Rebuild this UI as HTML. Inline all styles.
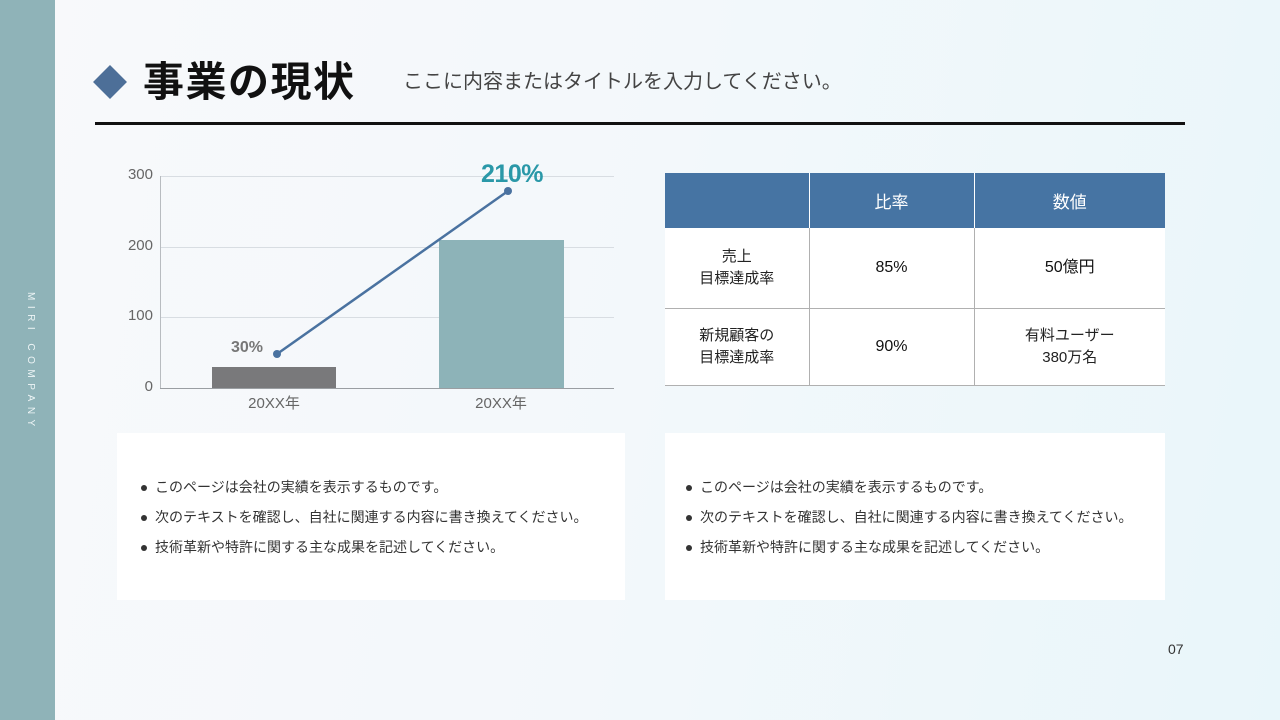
<!DOCTYPE html>
<html lang="ja">
<head>
<meta charset="utf-8">
<style>
*{margin:0;padding:0;box-sizing:border-box;}
html,body{width:1280px;height:720px;overflow:hidden;}
body{position:relative;font-family:"Liberation Sans","Noto Sans CJK JP",sans-serif;
background:linear-gradient(100deg,#f8f9fb 0%,#f3f8fb 50%,#e9f6fa 100%);}
.side{position:absolute;left:0;top:0;width:55px;height:720px;background:#8fb3b8;}
.vt{position:absolute;left:24px;top:292px;writing-mode:vertical-rl;font-size:10px;letter-spacing:5.5px;color:#eef5f6;font-family:"Liberation Sans",sans-serif;line-height:12px;}
.dia{position:absolute;left:98px;top:70px;width:24px;height:24px;background:#4d6f98;transform:rotate(45deg);}
.title{position:absolute;left:143px;top:57px;font-size:41px;font-weight:bold;color:#111;line-height:50px;letter-spacing:1.5px;}
.sub{position:absolute;left:403px;top:69px;font-size:20px;color:#444;line-height:26px;}
.hr{position:absolute;left:95px;top:122px;width:1090px;height:3px;background:#111;}
table{position:absolute;left:665px;top:173px;border-collapse:collapse;width:500px;}
th{background:#4674a3;color:#fff;font-weight:normal;font-size:17px;height:55px;border-left:1px solid #fff;}
th:first-child{border-left:none;}
td{background:#fff;text-align:center;font-size:15px;color:#222;line-height:22px;border-bottom:1px solid #b0b0b0;border-left:1px solid #b0b0b0;}
td.v{font-size:16px;color:#111;}
td:first-child{border-left:none;}
.box{position:absolute;top:433px;height:167px;background:#fff;}
.box ul{list-style:none;position:absolute;top:39px;}
.box li{font-size:14px;color:#333;line-height:30px;position:relative;padding-left:14px;white-space:nowrap;}
.box li:before{content:"";position:absolute;left:0;top:13px;width:6px;height:6px;border-radius:50%;background:#333;}
.pn{position:absolute;left:1168px;top:641px;font-size:14px;color:#333;}
</style>
</head>
<body>
<div class="side"></div>
<div class="vt">MIRI COMPANY</div>
<div class="dia"></div>
<div class="title">事業の現状</div>
<div class="sub">ここに内容またはタイトルを入力してください。</div>
<div class="hr"></div>

<svg style="position:absolute;left:0;top:0" width="660" height="430">
  <g stroke="#d8dde2" stroke-width="1">
    <line x1="160" y1="176.5" x2="614" y2="176.5"/>
    <line x1="160" y1="247.5" x2="614" y2="247.5"/>
    <line x1="160" y1="317.5" x2="614" y2="317.5"/>
  </g>
  <line x1="160.5" y1="176" x2="160.5" y2="388" stroke="#b8bcc0" stroke-width="1"/>
  <rect x="212" y="367" width="124" height="21" fill="#79797b"/>
  <rect x="439" y="240" width="125" height="148" fill="#8db3b8"/>
  <line x1="160" y1="388.5" x2="614" y2="388.5" stroke="#9a9ea2" stroke-width="1"/>
  <g font-family="Liberation Sans, sans-serif" font-size="15" fill="#666" text-anchor="end">
    <text x="153" y="179">300</text>
    <text x="153" y="250">200</text>
    <text x="153" y="320">100</text>
    <text x="153" y="391">0</text>
  </g>
  <g font-family="Liberation Sans, Noto Sans CJK JP, sans-serif" font-size="15" fill="#666" text-anchor="middle">
    <text x="274" y="408">20XX年</text>
    <text x="501" y="408">20XX年</text>
  </g>
  <line x1="277" y1="354" x2="508" y2="191" stroke="#4a72a0" stroke-width="2.5"/>
  <circle cx="277" cy="354" r="4" fill="#4a72a0"/>
  <circle cx="508" cy="191" r="4" fill="#4a72a0"/>
  <text x="247" y="352" font-family="Liberation Sans, sans-serif" font-size="16" font-weight="bold" fill="#777" text-anchor="middle">30%</text>
  <text x="512" y="182" font-family="Liberation Sans, sans-serif" font-size="25" font-weight="bold" fill="#2a98a8" text-anchor="middle" letter-spacing="-0.5">210%</text>
</svg>

<table>
  <tr><th style="width:144px"></th><th style="width:165px">比率</th><th style="width:191px">数値</th></tr>
  <tr style="height:80px"><td>売上<br>目標達成率</td><td class="v">85%</td><td class="v">50億円</td></tr>
  <tr style="height:77px"><td>新規顧客の<br>目標達成率</td><td class="v">90%</td><td>有料ユーザー<br>380万名</td></tr>
</table>

<div class="box" style="left:117px;width:508px;">
  <ul style="left:24px;">
    <li>このページは会社の実績を表示するものです。</li>
    <li>次のテキストを確認し、自社に関連する内容に書き換えてください。</li>
    <li>技術革新や特許に関する主な成果を記述してください。</li>
  </ul>
</div>
<div class="box" style="left:665px;width:500px;">
  <ul style="left:21px;">
    <li>このページは会社の実績を表示するものです。</li>
    <li>次のテキストを確認し、自社に関連する内容に書き換えてください。</li>
    <li>技術革新や特許に関する主な成果を記述してください。</li>
  </ul>
</div>
<div class="pn">07</div>
</body>
</html>
